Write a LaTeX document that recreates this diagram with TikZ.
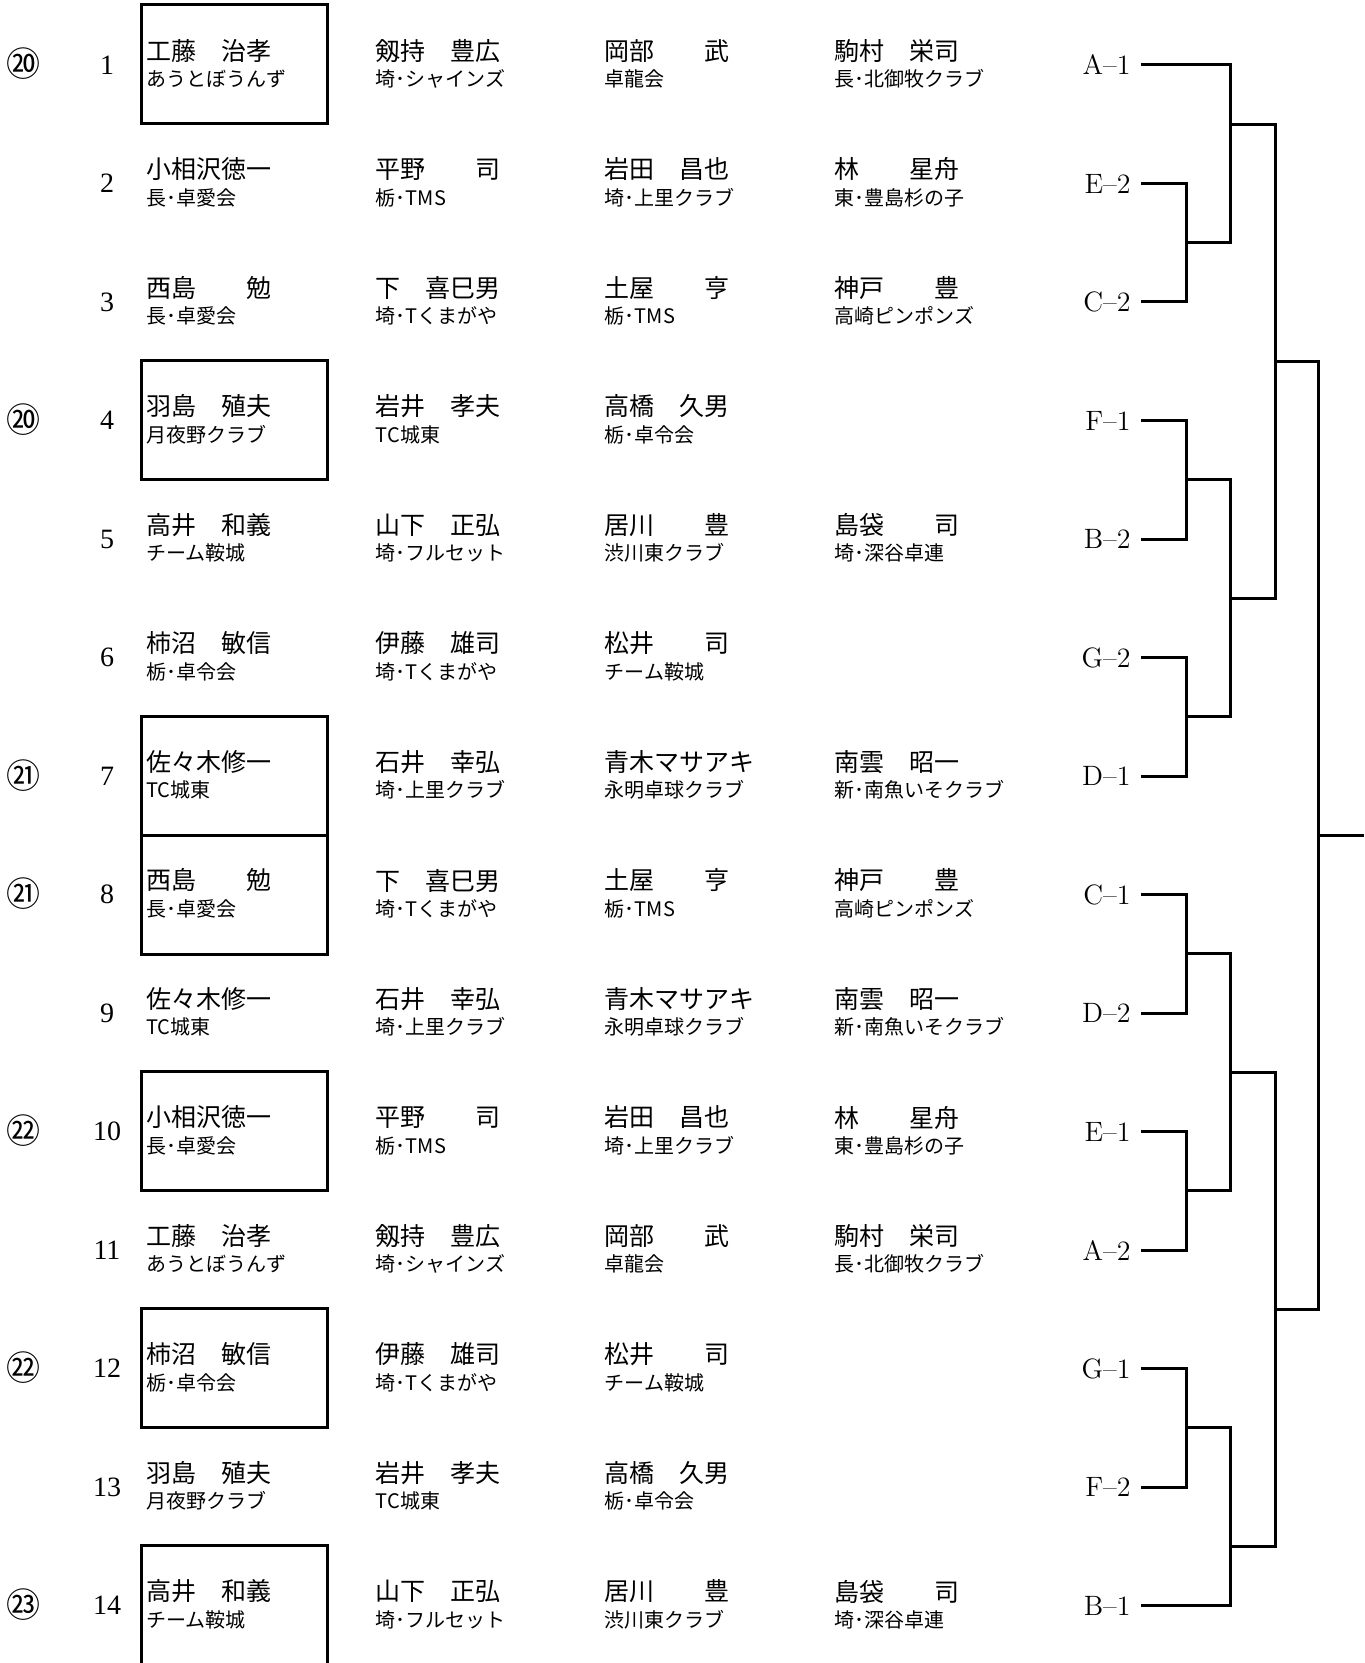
\documentclass[tikz,border=0pt]{standalone}
\usepackage{fontspec}
\usepackage{tikz}
\usetikzlibrary{positioning}
\newfontfamily\jp{Noto Sans CJK JP}
\newfontfamily\numfont{Liberation Serif}

% name on top, club below
\newcommand{\player}[5]{%
  \node[namenode] (#1) at (#2,#3-14) {#4};
  \node[clubnode] (#1c) at (#2,#3+14) {#5};}

\begin{document}
\begin{tikzpicture}[x=0.5pt, y=-0.5pt,
  namenode/.style = {anchor=west, inner sep=0pt, font=\jp\fontsize{12.5}{15}\selectfont},
  clubnode/.style = {anchor=west, inner sep=0pt, font=\jp\fontsize{10}{12}\selectfont},
  rownum/.style = {inner sep=0pt, font=\numfont\fontsize{14}{16}\selectfont},
  seed/.style = {inner sep=0pt, font=\jp\fontsize{17}{19}\selectfont},
  seedbox/.style = {draw, line width=1.5pt, minimum width=93pt, minimum height=59.5pt, inner sep=0pt},
  grp/.style = {anchor=east, inner xsep=5pt, inner ysep=0pt, font=\fontsize{14}{17}\selectfont},
  bracket/.style = {line width=1.5pt}]
     \useasboundingbox (0,0) rectangle (1364,1663);

     % seeded boxes
     \node[seedbox] (box1) at (234,64.5) {};
     \node[seedbox] (box4) at (234,420) {};
     \node[seedbox] (box7) at (234,775.5) {};
     \node[seedbox] (box8) at (234,894.5) {};
     \node[seedbox] (box10) at (234,1131) {};
     \node[seedbox] (box12) at (234,1368) {};
     \node[seedbox] (box14) at (234,1605) {};

     \node[seed] (s1) at (23,64) {⑳};
     \node[seed] (s4) at (23,420) {⑳};
     \node[seed] (s7) at (23,775.5) {㉑};
     \node[seed] (s8) at (23,894) {㉑};
     \node[seed] (s10) at (23,1131) {㉒};
     \node[seed] (s12) at (23,1368) {㉒};
     \node[seed] (s14) at (23,1605) {㉓};

     % row 1
     \node[rownum] (n1) at (107,65) {1};
     \player{p1a}{146}{65}{工藤　治孝}{あうとぼうんず}
     \player{p1b}{375.5}{65}{剱持　豊広}{埼･シャインズ}
     \player{p1c}{604.5}{65}{岡部　　武}{卓龍会}
     \player{p1d}{834}{65}{駒村　栄司}{長･北御牧クラブ}
     \node[grp] (gA1) at (1141,65) {A--1};
     % row 2
     \node[rownum] (n2) at (107,183.5) {2};
     \player{p2a}{146}{183.5}{小相沢徳一}{長･卓愛会}
     \player{p2b}{375.5}{183.5}{平野　　司}{栃･TMS}
     \player{p2c}{604.5}{183.5}{岩田　昌也}{埼･上里クラブ}
     \player{p2d}{834}{183.5}{林　　星舟}{東･豊島杉の子}
     \node[grp] (gE2) at (1141,183.5) {E--2};
     % row 3
     \node[rownum] (n3) at (107,302) {3};
     \player{p3a}{146}{302}{西島　　勉}{長･卓愛会}
     \player{p3b}{375.5}{302}{下　喜巳男}{埼･Tくまがや}
     \player{p3c}{604.5}{302}{土屋　　亨}{栃･TMS}
     \player{p3d}{834}{302}{神戸　　豊}{高崎ピンポンズ}
     \node[grp] (gC2) at (1141,302) {C--2};
     % row 4
     \node[rownum] (n4) at (107,420.5) {4};
     \player{p4a}{146}{420.5}{羽島　殖夫}{月夜野クラブ}
     \player{p4b}{375.5}{420.5}{岩井　孝夫}{TC城東}
     \player{p4c}{604.5}{420.5}{高橋　久男}{栃･卓令会}
     \node[grp] (gF1) at (1141,420.5) {F--1};
     % row 5
     \node[rownum] (n5) at (107,539) {5};
     \player{p5a}{146}{539}{高井　和義}{チーム鞍城}
     \player{p5b}{375.5}{539}{山下　正弘}{埼･フルセット}
     \player{p5c}{604.5}{539}{居川　　豊}{渋川東クラブ}
     \player{p5d}{834}{539}{島袋　　司}{埼･深谷卓連}
     \node[grp] (gB2) at (1141,539) {B--2};
     % row 6
     \node[rownum] (n6) at (107,657.5) {6};
     \player{p6a}{146}{657.5}{柿沼　敏信}{栃･卓令会}
     \player{p6b}{375.5}{657.5}{伊藤　雄司}{埼･Tくまがや}
     \player{p6c}{604.5}{657.5}{松井　　司}{チーム鞍城}
     \node[grp] (gG2) at (1141,657.5) {G--2};
     % row 7
     \node[rownum] (n7) at (107,776) {7};
     \player{p7a}{146}{776}{佐々木修一}{TC城東}
     \player{p7b}{375.5}{776}{石井　幸弘}{埼･上里クラブ}
     \player{p7c}{604.5}{776}{青木マサアキ}{永明卓球クラブ}
     \player{p7d}{834}{776}{南雲　昭一}{新･南魚いそクラブ}
     \node[grp] (gD1) at (1141,776) {D--1};
     % row 8
     \node[rownum] (n8) at (107,894.5) {8};
     \player{p8a}{146}{894.5}{西島　　勉}{長･卓愛会}
     \player{p8b}{375.5}{894.5}{下　喜巳男}{埼･Tくまがや}
     \player{p8c}{604.5}{894.5}{土屋　　亨}{栃･TMS}
     \player{p8d}{834}{894.5}{神戸　　豊}{高崎ピンポンズ}
     \node[grp] (gC1) at (1141,894.5) {C--1};
     % row 9
     \node[rownum] (n9) at (107,1013) {9};
     \player{p9a}{146}{1013}{佐々木修一}{TC城東}
     \player{p9b}{375.5}{1013}{石井　幸弘}{埼･上里クラブ}
     \player{p9c}{604.5}{1013}{青木マサアキ}{永明卓球クラブ}
     \player{p9d}{834}{1013}{南雲　昭一}{新･南魚いそクラブ}
     \node[grp] (gD2) at (1141,1013) {D--2};
     % row 10
     \node[rownum] (n10) at (107,1131.5) {10};
     \player{p10a}{146}{1131.5}{小相沢徳一}{長･卓愛会}
     \player{p10b}{375.5}{1131.5}{平野　　司}{栃･TMS}
     \player{p10c}{604.5}{1131.5}{岩田　昌也}{埼･上里クラブ}
     \player{p10d}{834}{1131.5}{林　　星舟}{東･豊島杉の子}
     \node[grp] (gE1) at (1141,1131.5) {E--1};
     % row 11
     \node[rownum] (n11) at (107,1250) {11};
     \player{p11a}{146}{1250}{工藤　治孝}{あうとぼうんず}
     \player{p11b}{375.5}{1250}{剱持　豊広}{埼･シャインズ}
     \player{p11c}{604.5}{1250}{岡部　　武}{卓龍会}
     \player{p11d}{834}{1250}{駒村　栄司}{長･北御牧クラブ}
     \node[grp] (gA2) at (1141,1250) {A--2};
     % row 12
     \node[rownum] (n12) at (107,1368.5) {12};
     \player{p12a}{146}{1368.5}{柿沼　敏信}{栃･卓令会}
     \player{p12b}{375.5}{1368.5}{伊藤　雄司}{埼･Tくまがや}
     \player{p12c}{604.5}{1368.5}{松井　　司}{チーム鞍城}
     \node[grp] (gG1) at (1141,1368.5) {G--1};
     % row 13
     \node[rownum] (n13) at (107,1487) {13};
     \player{p13a}{146}{1487}{羽島　殖夫}{月夜野クラブ}
     \player{p13b}{375.5}{1487}{岩井　孝夫}{TC城東}
     \player{p13c}{604.5}{1487}{高橋　久男}{栃･卓令会}
     \node[grp] (gF2) at (1141,1487) {F--2};
     % row 14
     \node[rownum] (n14) at (107,1605.5) {14};
     \player{p14a}{146}{1605.5}{高井　和義}{チーム鞍城}
     \player{p14b}{375.5}{1605.5}{山下　正弘}{埼･フルセット}
     \player{p14c}{604.5}{1605.5}{居川　　豊}{渋川東クラブ}
     \player{p14d}{834}{1605.5}{島袋　　司}{埼･深谷卓連}
     \node[grp] (gB1) at (1141,1605.5) {B--1};

     % bracket joints
     \coordinate (a1) at (1186,242.75);
     \coordinate (a2) at (1186,479.75);
     \coordinate (a3) at (1186,716.75);
     \coordinate (a4) at (1186,953.75);
     \coordinate (a5) at (1186,1190.75);
     \coordinate (a6) at (1186,1427.75);
     \coordinate (b1) at (1230,124.25);
     \coordinate (b2) at (1230,598.25);
     \coordinate (b3) at (1230,1072.25);
     \coordinate (b4) at (1230,1546.25);
     \coordinate (c1) at (1275,361.25);
     \coordinate (c2) at (1275,1309.25);
     \coordinate (d1) at (1318,835.25);
     \coordinate (fin) at (1364,835.25);

     \draw[bracket] (gE2.east) -| (a1) |- (gC2.east);
     \draw[bracket] (gF1.east) -| (a2) |- (gB2.east);
     \draw[bracket] (gG2.east) -| (a3) |- (gD1.east);
     \draw[bracket] (gC1.east) -| (a4) |- (gD2.east);
     \draw[bracket] (gE1.east) -| (a5) |- (gA2.east);
     \draw[bracket] (gG1.east) -| (a6) |- (gF2.east);
     \draw[bracket] (gA1.east) -| (b1) |- (a1);
     \draw[bracket] (a2) -| (b2) |- (a3);
     \draw[bracket] (a4) -| (b3) |- (a5);
     \draw[bracket] (a6) -| (b4) |- (gB1.east);
     \draw[bracket] (b1) -| (c1) |- (b2);
     \draw[bracket] (b3) -| (c2) |- (b4);
     \draw[bracket] (c1) -| (d1) |- (c2);
     \draw[bracket] (d1) -- (fin);
\end{tikzpicture}
\end{document}
